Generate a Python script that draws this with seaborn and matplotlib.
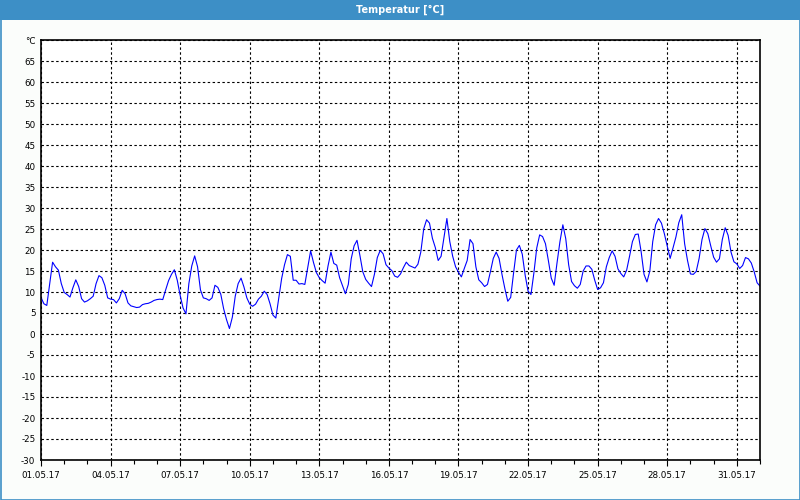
import numpy as np
import pandas as pd
import matplotlib
matplotlib.use("Agg")
import matplotlib.pyplot as plt
import matplotlib.dates as mdates
from matplotlib.patches import Rectangle
import seaborn as sns

# temperature readings every 3 hours, 01.05.2017 00:00 .. 01.06.2017 00:00
day_values = [
    [8.7, 7.2, 6.8, 12.0, 17.1, 16.0, 15.2, 12.0],
    [9.9, 9.4, 8.8, 11.0, 12.9, 11.3, 8.4, 7.6],
    [7.9, 8.4, 9.0, 12.0, 13.9, 13.4, 11.6, 8.6],
    [8.3, 8.2, 7.4, 8.4, 10.4, 9.6, 7.4, 6.7],
    [6.5, 6.3, 6.4, 7.0, 7.2, 7.3, 7.6, 8.0],
    [8.2, 8.3, 8.2, 10.5, 12.7, 14.2, 15.3, 12.8],
    [9.2, 6.2, 4.8, 12.0, 16.2, 18.6, 16.0, 10.5],
    [8.6, 8.4, 8.0, 8.6, 11.6, 11.1, 9.5, 6.0],
    [3.4, 1.3, 4.0, 9.0, 12.0, 13.3, 11.2, 8.6],
    [7.1, 6.6, 7.1, 8.3, 9.0, 10.2, 9.4, 7.2],
    [4.5, 3.8, 8.5, 13.2, 16.5, 18.9, 18.5, 12.8],
    [12.8, 11.9, 12.0, 11.8, 15.8, 19.8, 17.0, 14.6],
    [13.4, 12.7, 12.1, 16.2, 19.5, 16.8, 16.4, 13.4],
    [11.5, 9.6, 11.8, 17.9, 21.0, 22.3, 18.7, 14.8],
    [13.0, 12.1, 11.3, 14.2, 18.2, 19.9, 19.1, 16.5],
    [15.7, 15.1, 13.8, 13.5, 14.3, 15.8, 17.1, 16.3],
    [16.0, 15.7, 16.6, 19.5, 25.0, 27.2, 26.4, 22.8],
    [20.6, 17.5, 18.5, 23.0, 27.5, 22.0, 18.5, 16.0],
    [14.7, 13.6, 15.6, 17.5, 22.5, 21.5, 16.0, 12.9],
    [12.2, 11.3, 11.8, 14.8, 18.0, 19.5, 18.0, 14.2],
    [10.8, 7.8, 8.7, 14.5, 20.0, 21.1, 19.0, 14.0],
    [10.2, 9.4, 14.5, 20.5, 23.6, 23.2, 21.5, 17.5],
    [13.3, 11.6, 17.0, 22.0, 26.0, 22.7, 16.5, 12.5],
    [11.5, 10.9, 11.8, 15.0, 16.2, 16.2, 15.4, 12.8],
    [10.6, 11.0, 12.2, 16.0, 18.2, 19.8, 18.5, 15.5],
    [14.4, 13.6, 15.2, 18.5, 22.0, 23.7, 23.8, 19.6],
    [14.2, 12.4, 15.0, 22.0, 26.0, 27.5, 26.4, 23.9],
    [21.0, 18.0, 20.5, 23.1, 26.5, 28.4, 21.5, 17.5],
    [14.3, 14.2, 14.9, 18.0, 22.5, 25.1, 23.9, 21.0],
    [18.3, 17.1, 17.9, 22.5, 25.3, 23.5, 19.5, 17.2],
    [16.7, 15.6, 16.3, 18.2, 17.9, 16.9, 14.8, 12.2],
]
last_value = [11.4]

temps = [v for day in day_values for v in day] + last_value
times = pd.date_range("2017-05-01 00:00", periods=len(temps), freq="3h")
df = pd.DataFrame({"Zeit": times, "Temperatur": temps})

x_ticks = pd.date_range("2017-05-01", "2017-05-31", freq="3D")
y_ticks = list(range(-30, 75, 5))
y_labels = [str(t) for t in y_ticks[:-1]] + ["°C"]

sns.set_style("white")
plt.rcParams["font.family"] = ["DejaVu Sans"]

fig = plt.figure(figsize=(8, 5), dpi=100, facecolor="#fbfdfb")
ax = fig.add_axes([41 / 800, 40 / 500, 719 / 800, 420 / 500])
ax.set_facecolor("white")

sns.lineplot(data=df, x="Zeit", y="Temperatur", ax=ax, color="#0000ff", linewidth=0.8)

ax.set_xlim(pd.Timestamp("2017-05-01"), pd.Timestamp("2017-06-01"))
ax.set_ylim(-30, 70)
ax.set_yticks(y_ticks)
ax.set_yticklabels(y_labels)
ax.set_xticks(x_ticks)
ax.xaxis.set_major_formatter(mdates.DateFormatter("%d.%m.%y"))
ax.xaxis.set_minor_locator(mdates.DayLocator())
ax.set_xlabel("")
ax.set_ylabel("")

ax.grid(True, which="major", color="black", linestyle=(0, (2.2, 2.2)), linewidth=0.8)
ax.tick_params(axis="y", length=0, pad=4, labelsize=6.3, colors="black")
ax.tick_params(axis="x", which="major", length=4, width=0.8, pad=4, labelsize=6.3, colors="black", direction="out", bottom=True)
ax.tick_params(axis="x", which="minor", length=3, width=0.8, color="black", direction="out", bottom=True)
for s in ax.spines.values():
    s.set_color("black")
    s.set_linewidth(1.2)

# window frame with title bar
fig.patches.append(Rectangle((0, 480 / 500), 1, 20 / 500, transform=fig.transFigure,
                             facecolor="#3d8fc6", edgecolor="none", zorder=0))
fig.patches.append(Rectangle((0.5 / 800, 0.5 / 500), 799 / 800, 499 / 500, transform=fig.transFigure,
                             facecolor="none", edgecolor="#3d8fc6", linewidth=1.2, zorder=5))
fig.text(0.5, 490 / 500, "Temperatur [°C]", color="white", fontsize=7, fontweight="bold",
         ha="center", va="center", family=["Liberation Sans Narrow", "DejaVu Sans"])

fig.savefig("out.png", dpi=100, facecolor=fig.get_facecolor())
